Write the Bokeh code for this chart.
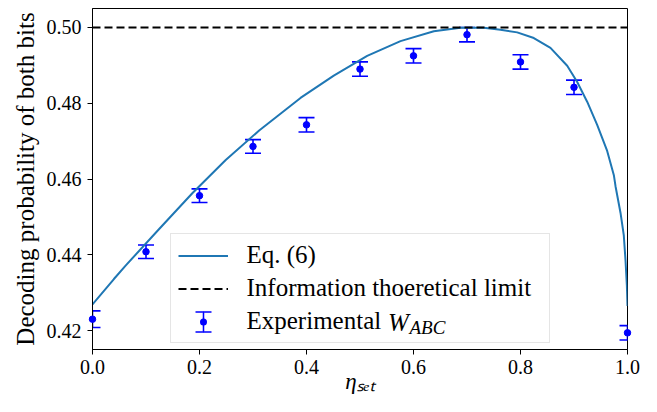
from bokeh.plotting import figure
from bokeh.models import (Whisker, TeeHead, ColumnDataSource, Legend, LegendItem,
                          FixedTicker, PrintfTickFormatter, Label)
from bokeh.embed import file_html
from bokeh.resources import INLINE

# ---- data ----
eta_exp = [0.0, 0.1, 0.2, 0.3, 0.4, 0.5, 0.6, 0.7, 0.8, 0.9, 1.0]
p_exp = [0.4230, 0.4408, 0.4556, 0.4686, 0.4743, 0.4890, 0.4925, 0.4981, 0.4909, 0.4842, 0.4194]
err_exp = [0.0022, 0.0018, 0.0018, 0.0018, 0.0019, 0.0019, 0.0019, 0.0019, 0.0019, 0.0019, 0.0019]

eta_curve = [0.0, 0.040, 0.0623, 0.1246, 0.187, 0.249, 0.3115, 0.3888, 0.451, 0.5134,
             0.5757, 0.638, 0.6879, 0.7315, 0.7626, 0.7938, 0.8249, 0.856, 0.8873, 0.906,
             0.9246, 0.9433, 0.962, 0.9745, 0.9776, 0.9869, 0.9931, 0.9963, 0.9988, 1.0]
p_curve = [0.4269, 0.4336, 0.4372, 0.4468, 0.4563, 0.4650, 0.4728, 0.4814, 0.4873, 0.4925,
           0.4964, 0.4990, 0.4999, 0.4999, 0.4994, 0.4987, 0.4972, 0.4946, 0.4899, 0.4856,
           0.4804, 0.4743, 0.4674, 0.4610, 0.4581, 0.4511, 0.4451, 0.4385, 0.4320, 0.4265]

limit = [0.50]
x_ticks = [0.0, 0.2, 0.4, 0.6, 0.8, 1.0]
y_ticks = [0.42, 0.44, 0.46, 0.48, 0.50]

SERIF = "Liberation Serif"
NAN = float("nan")

p = figure(width=641, height=396, x_range=(0.0, 1.0), y_range=(0.415, 0.505),
           output_backend="svg", toolbar_location=None,
           min_border_left=92, min_border_right=14, min_border_top=8, min_border_bottom=10)
p.background_fill_color = "white"
p.border_fill_color = "white"
p.outline_line_color = "black"
p.outline_line_width = 1
p.grid.visible = False

for ax in (p.xaxis[0], p.yaxis[0]):
    ax.axis_line_color = "black"
    ax.axis_line_width = 1
    ax.major_tick_in = 0
    ax.major_tick_out = 5
    ax.major_tick_line_color = "black"
    ax.minor_tick_line_color = None
    ax.major_label_text_font = SERIF
    ax.major_label_text_font_size = "20px"
    ax.major_label_text_color = "black"

p.xaxis.ticker = FixedTicker(ticks=x_ticks)
p.yaxis.ticker = FixedTicker(ticks=y_ticks)
p.xaxis.formatter = PrintfTickFormatter(format="%.1f")
p.yaxis.formatter = PrintfTickFormatter(format="%.2f")
p.xaxis.major_label_standoff = 5
p.yaxis.major_label_standoff = 6

p.yaxis.axis_label = "Decoding probability of both bits"
p.yaxis.axis_label_text_font = SERIF
p.yaxis.axis_label_text_font_size = "25px"
p.yaxis.axis_label_text_font_style = "normal"
p.yaxis.axis_label_text_color = "black"
p.yaxis.axis_label_standoff = 5

p.xaxis.axis_label = "η\u209b\u2091\u209c"
p.xaxis.axis_label_text_font = SERIF
p.xaxis.axis_label_text_font_size = "23px"
p.xaxis.axis_label_text_font_style = "italic"
p.xaxis.axis_label_text_color = "black"
p.xaxis.axis_label_standoff = -8

# theory curve
r_curve = p.line(eta_curve, p_curve, line_color="#1f77b4", line_width=2)
# information theoretical limit
r_limit = p.hspan(y=limit, line_color="black", line_width=2, line_dash="8 4")

# error bars
lower = [v - e for v, e in zip(p_exp, err_exp)]
upper = [v + e for v, e in zip(p_exp, err_exp)]
src = ColumnDataSource(dict(base=eta_exp, lower=lower, upper=upper))
wh = Whisker(base="base", lower="lower", upper="upper", source=src, dimension="height",
             line_color="blue", line_width=1.6,
             upper_head=TeeHead(size=16, line_color="blue", line_width=1.6),
             lower_head=TeeHead(size=16, line_color="blue", line_width=1.6))
p.add_layout(wh)
r_pts = p.scatter(eta_exp, p_exp, size=6.5, color="blue")
r_pts.level = "overlay"

# legend key proxies for the error-bar symbol (dot + caps + vertical bar)
r_dot = p.scatter(x=[NAN], y=[NAN], marker="circle", fill_color="blue",
                  line_color="white", line_width=3)
r_caps = p.quad(left=[NAN], right=[NAN], top=[NAN], bottom=[NAN], fill_color=None,
                line_color="blue", line_width=1.6, line_dash="0 12 16 44 16 32")
r_bar = p.ellipse(x=[NAN], y=[NAN], width=[0.1], height=[20], width_units="screen",
                  height_units="screen", fill_color=None, line_color="blue", line_width=1.6)

legend = Legend(items=[
    LegendItem(label="Eq. (6)", renderers=[r_curve]),
    LegendItem(label="Information thoeretical limit", renderers=[r_limit]),
    LegendItem(label="Experimental", renderers=[r_dot, r_caps, r_bar]),
], location="bottom_center")
legend.label_text_font = SERIF
legend.label_text_font_size = "25px"
legend.label_text_color = "black"
legend.glyph_width = 50
legend.glyph_height = 25
legend.label_height = 25
legend.label_width = 295
legend.label_standoff = 19
legend.padding = 7
legend.spacing = 5
legend.margin = 6
legend.border_line_color = "#cccccc"
legend.border_line_width = 1
legend.background_fill_alpha = 0.0
legend.level = "annotation"
p.add_layout(legend)

# italic W_ABC after "Experimental"
lw = Label(x=0.5524, y=0.4221, text="W", text_font=SERIF, text_font_size="25px",
           text_font_style="italic", text_baseline="middle", text_align="left",
           text_color="black")
la = Label(x=0.5925, y=0.4208, text="ABC", text_font=SERIF, text_font_size="19px",
           text_font_style="italic", text_baseline="middle", text_align="left",
           text_color="black")
lw.level = "overlay"
la.level = "overlay"
p.add_layout(lw)
p.add_layout(la)

open("out.html", "w").write(file_html(p, INLINE))
